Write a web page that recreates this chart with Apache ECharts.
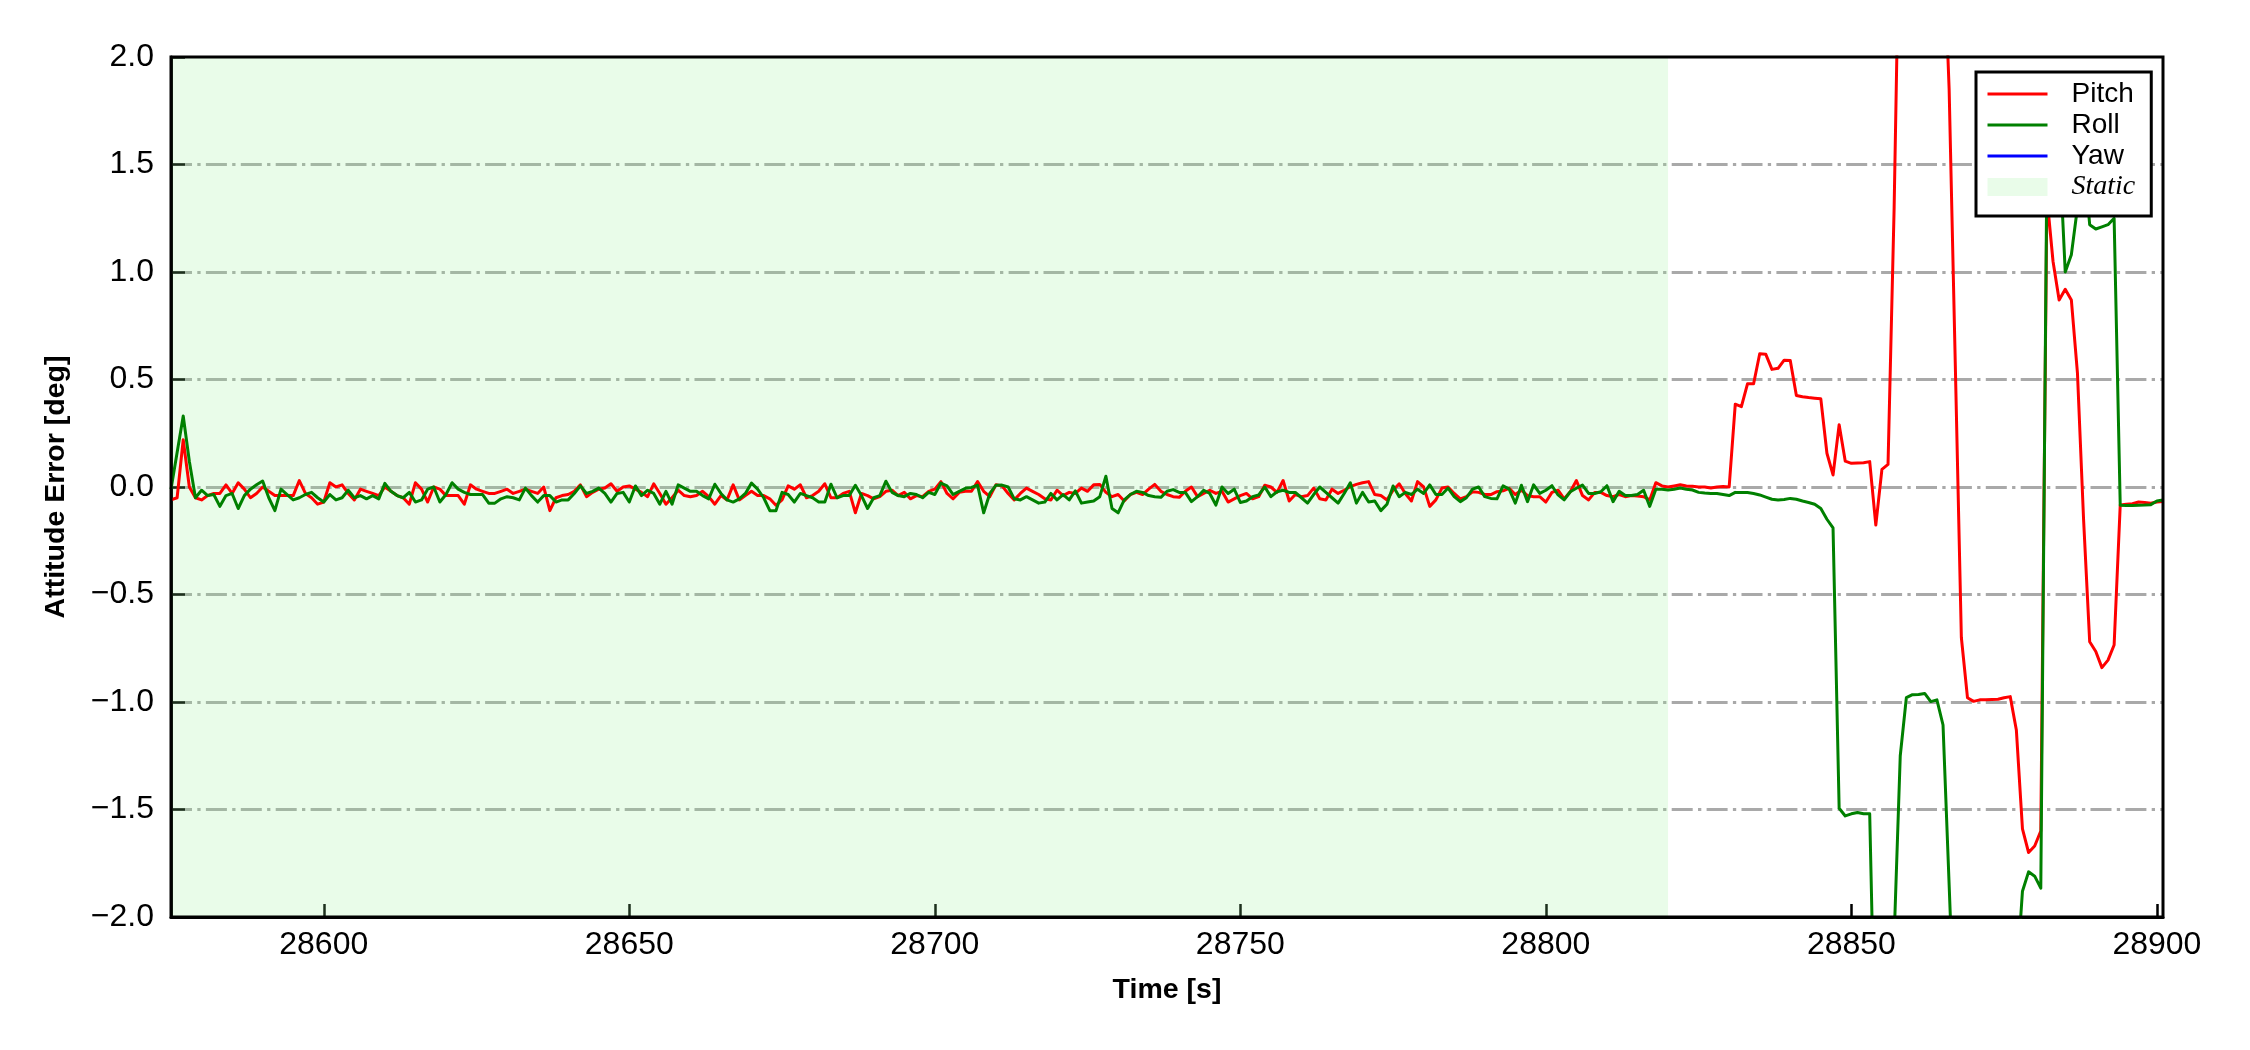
<!DOCTYPE html>
<html>
<head>
<meta charset="utf-8">
<script src="https://cdn.jsdelivr.net/npm/echarts@6/dist/echarts.min.js"></script>
<style>
html,body{margin:0;padding:0;background:#fff;}
#c{width:2250px;height:1050px;}
</style>
</head>
<body>
<div id="c"></div>
<script>
// ---- data (1 sample per second starting at timeStart) ----
const timeStart = 28575;
const timeStep = 1;

const pitch = [
  -0.06, -0.05, 0.22, 0.00, -0.05, -0.06, -0.04, -0.03, -0.03, 0.01,
  -0.03, 0.02, -0.01, -0.05, -0.03, 0.00, -0.02, -0.04, -0.04, -0.04,
  -0.04, 0.03, -0.03, -0.05, -0.08, -0.07, 0.02, 0.00, 0.01, -0.03,
  -0.06, -0.01, -0.02, -0.03, -0.04, 0.00, -0.02, -0.04, -0.05, -0.08,
  0.02, -0.01, -0.07, 0.00, -0.01, -0.04, -0.04, -0.04, -0.08, 0.01,
  -0.01, -0.02, -0.03, -0.03, -0.02, -0.01, -0.03, -0.02, -0.01, -0.02,
  -0.03, 0.00, -0.11, -0.05, -0.04, -0.035, -0.02, 0.01, -0.045, -0.025,
  -0.01, -0.005, 0.015, -0.02, 0.00, 0.005, -0.01, -0.025, -0.045, 0.015,
  -0.03, -0.08, -0.05, -0.015, -0.04, -0.045, -0.04, -0.02, -0.045, -0.08,
  -0.04, -0.06, 0.01, -0.06, -0.04, -0.02, -0.04, -0.04, -0.055, -0.085,
  -0.06, 0.005, -0.01, 0.01, -0.05, -0.04, -0.02, 0.015, -0.05, -0.05,
  -0.03, -0.02, -0.12, -0.03, -0.04, -0.055, -0.045, -0.02, -0.015, -0.04,
  -0.025, -0.055, -0.04, -0.045, -0.02, -0.01, 0.025, -0.03, -0.055, -0.025,
  -0.02, -0.02, 0.025, -0.02, -0.045, 0.01, 0.005, -0.03, -0.06, -0.03,
  -0.005, -0.02, -0.035, -0.055, -0.06, -0.015, -0.04, -0.025, -0.03, -0.005,
  -0.02, 0.01, 0.012, -0.025, -0.045, -0.035, -0.065, -0.035, -0.025, -0.035,
  -0.01, 0.012, -0.02, -0.035, -0.045, -0.048, -0.02, 0.0, -0.045, -0.03,
  -0.015, -0.03, -0.02, -0.07, -0.055, -0.04, -0.03, -0.055, -0.045, 0.008,
  0.0, -0.025, 0.03, -0.065, -0.035, -0.045, -0.04, -0.005, -0.055, -0.06,
  -0.01, -0.03, -0.015, 0.002, 0.012, 0.02, 0.025, -0.035, -0.04, -0.06,
  -0.015, 0.015, -0.03, -0.065, 0.025, 0.0, -0.09, -0.06, -0.005, 0.0,
  -0.03, -0.055, -0.045, -0.022, -0.025, -0.035, -0.035, -0.022, -0.018, -0.006,
  -0.035, -0.015, -0.04, -0.045, -0.045, -0.07, -0.025, -0.015, -0.055, -0.022,
  0.03, -0.04, -0.06, -0.025, -0.025, -0.04, -0.045, -0.035, -0.045, -0.04,
  -0.042, -0.045, -0.06, 0.02, 0.005, 0.0, 0.005, 0.01, 0.005, 0.003,
  0.0, 0.0, -0.005, 0.0, 0.002, 0.0, 0.385, 0.374, 0.48, 0.48,
  0.62, 0.617, 0.547, 0.552, 0.59, 0.588, 0.426, 0.42, 0.416, 0.413,
  0.41, 0.157, 0.056, 0.29, 0.12, 0.11, 0.112, 0.113, 0.118, -0.177,
  0.082, 0.105, 1.3, 2.9, 3.4, 3.8, 4.0, 3.9, 3.6, 3.2,
  2.6, 1.85, 0.58, -0.70, -0.98, -0.997, -0.99, -0.99, -0.988, -0.987,
  -0.98, -0.975, -1.13, -1.59, -1.70, -1.67, -1.60, 1.35, 1.05, 0.87,
  0.92, 0.87, 0.53, -0.15, -0.72, -0.765, -0.84, -0.805, -0.735, -0.084,
  -0.08, -0.078, -0.07, -0.072, -0.076, -0.07, -0.068
];

const roll = [
  -0.01, 0.16, 0.33, 0.12, -0.05, -0.015, -0.04, -0.035, -0.09, -0.04,
  -0.03, -0.10, -0.04, -0.01, 0.01, 0.028, -0.05, -0.11, -0.01, -0.035,
  -0.06, -0.05, -0.035, -0.025, -0.05, -0.07, -0.035, -0.06, -0.05, -0.015,
  -0.05, -0.04, -0.055, -0.04, -0.055, 0.017, -0.02, -0.04, -0.05, -0.025,
  -0.07, -0.06, -0.01, 0.00, -0.07, -0.035, 0.02, -0.01, -0.025, -0.035,
  -0.035, -0.035, -0.075, -0.075, -0.055, -0.045, -0.05, -0.06, -0.005, -0.04,
  -0.07, -0.04, -0.04, -0.07, -0.06, -0.06, -0.03, 0.005, -0.03, -0.02,
  -0.005, -0.03, -0.07, -0.03, -0.025, -0.07, 0.005, -0.04, -0.015, -0.03,
  -0.08, -0.02, -0.08, 0.01, -0.005, -0.02, -0.02, -0.04, -0.055, 0.013,
  -0.03, -0.06, -0.07, -0.055, -0.03, 0.018, -0.01, -0.05, -0.11, -0.11,
  -0.025, -0.035, -0.07, -0.03, -0.04, -0.05, -0.07, -0.07, 0.013, -0.05,
  -0.04, -0.04, 0.008, -0.04, -0.1, -0.05, -0.04, 0.027, -0.025, -0.04,
  -0.045, -0.03, -0.035, -0.05, -0.025, -0.035, 0.018, 0.005, -0.035, -0.02,
  -0.006, -0.002, 0.008, -0.12, -0.03, 0.008, 0.009, 0.0, -0.055, -0.06,
  -0.045, -0.06, -0.075, -0.07, -0.03, -0.06, -0.035, -0.06, -0.018, -0.075,
  -0.07, -0.065, -0.045, 0.05, -0.1, -0.12, -0.06, -0.035, -0.02, -0.025,
  -0.04, -0.045, -0.048, -0.02, -0.012, -0.025, -0.025, -0.068, -0.045, -0.015,
  -0.03, -0.084, 0.0, -0.03, -0.01, -0.072, -0.065, -0.045, -0.037, 0.0,
  -0.045, -0.022, -0.015, -0.025, -0.025, -0.05, -0.075, -0.035, 0.0, -0.025,
  -0.05, -0.075, -0.03, 0.02, -0.075, -0.025, -0.07, -0.065, -0.11, -0.08,
  0.005, -0.045, -0.025, -0.035, -0.01, -0.03, 0.01, -0.035, -0.035, -0.005,
  -0.045, -0.068, -0.05, -0.01, 0.0, -0.045, -0.053, -0.055, 0.005, -0.01,
  -0.075, 0.008, -0.068, 0.01, -0.03, -0.015, 0.006, -0.037, -0.06, -0.022,
  -0.006, 0.009, -0.03, -0.03, -0.022, 0.006, -0.068, -0.02, -0.04, -0.04,
  -0.035, -0.015, -0.09, -0.01, -0.01, -0.014, -0.01, -0.005, -0.01, -0.014,
  -0.025, -0.028, -0.03, -0.03, -0.035, -0.04, -0.025, -0.026, -0.026, -0.03,
  -0.037, -0.047, -0.057, -0.06, -0.058, -0.053, -0.057, -0.065, -0.072, -0.08,
  -0.1, -0.15, -0.19, -1.494, -1.53, -1.52, -1.514, -1.52, -1.52, -2.8,
  -3.3, -3.0, -2.1, -1.25, -0.98, -0.966, -0.965, -0.96, -0.998, -0.99,
  -1.107, -1.85, -2.6, -3.0, -3.2, -3.3, -3.2, -3.0, -2.9, -2.8,
  -2.7, -2.5, -2.3, -1.88, -1.79, -1.81, -1.866, 1.5, 1.45, 1.6,
  1.0, 1.08, 1.3, 1.55, 1.22, 1.20, 1.21, 1.22, 1.25, -0.085,
  -0.086, -0.086, -0.085, -0.084, -0.082, -0.065, -0.06
];

const yaw = [];                       // no yaw trace visible in the plotted range
const staticSpan = [28575, 28820];    // static period
const xRange = [28575, 28901];
const yRange = [-2, 2];
const yTickStep = 0.5;
const seriesNames = ['Pitch', 'Roll', 'Yaw', 'Static'];

// ---- build ----
const times = pitch.map((_, i) => timeStart + i * timeStep);
const toPairs = arr => arr.map((v, i) => [times[i], v]);

const FONT = 'Liberation Sans, Arial, Helvetica, sans-serif';
const chart = echarts.init(document.getElementById('c'), null, {renderer: 'canvas', width: 2250, height: 1050});

const option = {
  animation: false,
  backgroundColor: '#ffffff',
  grid: {
    left: 171, right: 87, top: 57, bottom: 133,
    show: true, borderColor: '#000', borderWidth: 3, backgroundColor: 'transparent', z: 10
  },
  xAxis: {
    type: 'value',
    min: xRange[0], max: xRange[1],
    name: 'Time [s]',
    nameLocation: 'middle',
    nameGap: 59,
    nameTextStyle: {fontFamily: FONT, fontWeight: 'bold', fontSize: 28.5, color: '#000'},
    axisLine: {show: true, onZero: false, lineStyle: {color: '#000', width: 3}},
    axisTick: {show: true, inside: true, length: 13, lineStyle: {color: '#000', width: 2.5}},
    axisLabel: {
      show: true, margin: 12, showMinLabel: false, showMaxLabel: false,
      fontFamily: FONT, fontSize: 32, color: '#000',
      formatter: v => String(Math.round(v))
    },
    splitLine: {show: false}
  },
  yAxis: {
    type: 'value',
    min: yRange[0], max: yRange[1], interval: yTickStep,
    name: 'Attitude Error [deg]',
    nameLocation: 'middle',
    nameGap: 100,
    nameRotate: 90,
    nameTextStyle: {fontFamily: FONT, fontWeight: 'bold', fontSize: 28.5, color: '#000'},
    axisLine: {show: true, onZero: false, lineStyle: {color: '#000', width: 3}},
    axisTick: {show: true, inside: true, length: 14, lineStyle: {color: '#000', width: 2.5}},
    axisLabel: {
      show: true, margin: 17,
      fontFamily: FONT, fontSize: 32, color: '#000',
      formatter: v => (v < 0 ? '\u2212' : '') + Math.abs(v).toFixed(1)
    },
    splitLine: {
      show: true, showMinLine: false, showMaxLine: false,
      lineStyle: {color: '#a9a9a9', width: 3, type: [21, 5.3, 3.3, 5.3]}
    }
  },
  legend: {
    show: true,
    orient: 'vertical',
    left: 1976, top: 72,
    itemWidth: 60, itemHeight: 18, itemGap: 3,
    padding: [8, 16, 15, 10],
    borderColor: '#000', borderWidth: 3, borderRadius: 0,
    backgroundColor: '#ffffff',
    selectedMode: false,
    itemStyle: {opacity: 0},
    lineStyle: {width: 3},
    textStyle: {fontFamily: FONT, fontSize: 28, color: '#000', lineHeight: 28, padding: [0, 0, 0, 19]},
    data: [
      {name: seriesNames[0]},
      {name: seriesNames[1]},
      {name: seriesNames[2]},
      {name: seriesNames[3], icon: 'rect',
        itemStyle: {opacity: 1, color: 'rgba(144,238,144,0.2)'},
        textStyle: {fontFamily: 'Liberation Serif, Times New Roman, serif', fontStyle: 'italic', fontSize: 28, color: '#000', lineHeight: 28, padding: [0, 0, 0, 19]}}
    ],
    z: 20
  },
  series: [
    {
      name: seriesNames[3], type: 'line', data: [], symbol: 'none',
      itemStyle: {color: 'rgba(144,238,144,0.2)'},
      lineStyle: {width: 0},
      markArea: {
        silent: true,
        itemStyle: {color: 'rgba(144,238,144,0.2)'},
        data: [[{xAxis: staticSpan[0]}, {xAxis: staticSpan[1]}]]
      },
      z: 1
    },
    {
      name: seriesNames[0], type: 'line', data: toPairs(pitch),
      symbol: 'none', showSymbol: false, clip: true,
      itemStyle: {color: '#ff0000'},
      lineStyle: {color: '#ff0000', width: 3, join: 'round'},
      z: 3
    },
    {
      name: seriesNames[1], type: 'line', data: toPairs(roll),
      symbol: 'none', showSymbol: false, clip: true,
      itemStyle: {color: '#008000'},
      lineStyle: {color: '#008000', width: 3, join: 'round'},
      z: 4
    },
    {
      name: seriesNames[2], type: 'line', data: yaw.map((v, i) => [times[i], v]),
      symbol: 'none', showSymbol: false, clip: true,
      itemStyle: {color: '#0000ff'},
      lineStyle: {color: '#0000ff', width: 3},
      z: 5
    }
  ]
};
chart.setOption(option);
</script>
</body>
</html>
